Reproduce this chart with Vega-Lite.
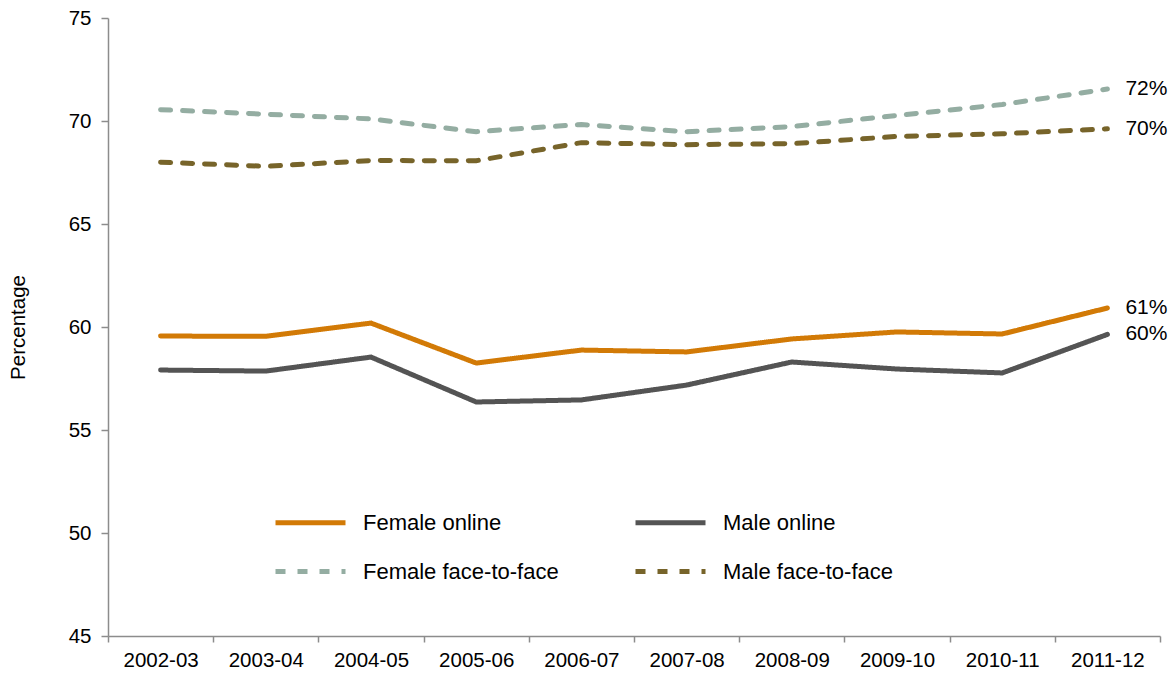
{
  "$schema": "https://vega.github.io/schema/vega-lite/v6.json",
  "width": 1052,
  "height": 618,
  "autosize": {"type": "none"},
  "padding": {"left": 108, "top": 18, "right": 16, "bottom": 41},
  "background": "white",
  "config": {
    "font": "Liberation Sans",
    "view": {"stroke": null},
    "axis": {"labelFont": "Liberation Sans", "labelFontSize": 20.5, "labelColor": "#000000", "domainColor": "#8c8c8c", "tickColor": "#8c8c8c", "grid": false, "titleFont": "Liberation Sans", "titleFontWeight": "normal", "titleColor": "#000000"},
    "legend": {"labelFont": "Liberation Sans"}
  },
  "datasets": {
    "lines": [
      {"year": "2002-03", "series": "Female online", "value": 59.56},
      {"year": "2003-04", "series": "Female online", "value": 59.55},
      {"year": "2004-05", "series": "Female online", "value": 60.19},
      {"year": "2005-06", "series": "Female online", "value": 58.25},
      {"year": "2006-07", "series": "Female online", "value": 58.88},
      {"year": "2007-08", "series": "Female online", "value": 58.79},
      {"year": "2008-09", "series": "Female online", "value": 59.42},
      {"year": "2009-10", "series": "Female online", "value": 59.76},
      {"year": "2010-11", "series": "Female online", "value": 59.66},
      {"year": "2011-12", "series": "Female online", "value": 60.92},
      {"year": "2002-03", "series": "Male online", "value": 57.91},
      {"year": "2003-04", "series": "Male online", "value": 57.86},
      {"year": "2004-05", "series": "Male online", "value": 58.54},
      {"year": "2005-06", "series": "Male online", "value": 56.36},
      {"year": "2006-07", "series": "Male online", "value": 56.46},
      {"year": "2007-08", "series": "Male online", "value": 57.18},
      {"year": "2008-09", "series": "Male online", "value": 58.3},
      {"year": "2009-10", "series": "Male online", "value": 57.96},
      {"year": "2010-11", "series": "Male online", "value": 57.77},
      {"year": "2011-12", "series": "Male online", "value": 59.64},
      {"year": "2002-03", "series": "Female face-to-face", "value": 70.55},
      {"year": "2003-04", "series": "Female face-to-face", "value": 70.33},
      {"year": "2004-05", "series": "Female face-to-face", "value": 70.1},
      {"year": "2005-06", "series": "Female face-to-face", "value": 69.48},
      {"year": "2006-07", "series": "Female face-to-face", "value": 69.83},
      {"year": "2007-08", "series": "Female face-to-face", "value": 69.48},
      {"year": "2008-09", "series": "Female face-to-face", "value": 69.73},
      {"year": "2009-10", "series": "Female face-to-face", "value": 70.27},
      {"year": "2010-11", "series": "Female face-to-face", "value": 70.8},
      {"year": "2011-12", "series": "Female face-to-face", "value": 71.55},
      {"year": "2002-03", "series": "Male face-to-face", "value": 68.0},
      {"year": "2003-04", "series": "Male face-to-face", "value": 67.8},
      {"year": "2004-05", "series": "Male face-to-face", "value": 68.08},
      {"year": "2005-06", "series": "Male face-to-face", "value": 68.07},
      {"year": "2006-07", "series": "Male face-to-face", "value": 68.95},
      {"year": "2007-08", "series": "Male face-to-face", "value": 68.85},
      {"year": "2008-09", "series": "Male face-to-face", "value": 68.9},
      {"year": "2009-10", "series": "Male face-to-face", "value": 69.25},
      {"year": "2010-11", "series": "Male face-to-face", "value": 69.38},
      {"year": "2011-12", "series": "Male face-to-face", "value": 69.62}
    ],
    "labels": [
      {"year": "2011-12", "series": "Female face-to-face", "value": 71.55, "label": "72%"},
      {"year": "2011-12", "series": "Male face-to-face", "value": 69.62, "label": "70%"},
      {"year": "2011-12", "series": "Female online", "value": 60.92, "label": "61%"},
      {"year": "2011-12", "series": "Male online", "value": 59.64, "label": "60%"}
    ]
  },
  "layer": [
    {
      "data": {"name": "lines"},
      "mark": {"type": "line", "strokeWidth": 5, "strokeCap": "round"},
      "encoding": {
        "x": {
          "field": "year", "type": "ordinal",
          "scale": {"paddingInner": 0, "paddingOuter": 0},
          "axis": {"title": null, "labelAngle": 0, "tickBand": "extent", "tickSize": 6, "labelPadding": 8, "domainWidth": 1.5, "tickWidth": 1.5}
        },
        "y": {
          "field": "value", "type": "quantitative",
          "scale": {"domain": [45, 75], "nice": false, "zero": false},
          "axis": {"values": [45, 50, 55, 60, 65, 70, 75], "title": "Percentage", "titleFontSize": 20.5, "titleX": -80, "tickSize": 7, "labelPadding": 10, "domainWidth": 1.5, "tickWidth": 1.5}
        },
        "color": {
          "field": "series", "type": "nominal",
          "scale": {"domain": ["Female online", "Female face-to-face", "Male online", "Male face-to-face"], "range": ["#d27a06", "#94ada2", "#545454", "#77642a"]},
          "legend": {
            "title": null, "orient": "none", "legendX": 165, "legendY": 467, "columns": 2, "columnPadding": 66, "rowPadding": 0,
            "symbolType": "stroke", "symbolSize": 4900, "symbolStrokeWidth": 5, "labelFontSize": 22, "labelColor": "#000000", "labelOffset": 15, "labelLimit": 400
          }
        },
        "strokeDash": {
          "field": "series", "type": "nominal",
          "scale": {"domain": ["Female online", "Female face-to-face", "Male online", "Male face-to-face"], "range": [[1, 0], [10, 12], [1, 0], [10, 12]]},
          "legend": {
            "title": null, "orient": "none", "legendX": 165, "legendY": 467, "columns": 2, "columnPadding": 66, "rowPadding": 0,
            "symbolType": "stroke", "symbolSize": 4900, "symbolStrokeWidth": 5, "labelFontSize": 22, "labelColor": "#000000", "labelOffset": 15, "labelLimit": 400
          }
        }
      }
    },
    {
      "data": {"name": "labels"},
      "mark": {"type": "text", "align": "left", "baseline": "middle", "dx": 18, "fontSize": 21, "color": "#000000"},
      "encoding": {
        "x": {"field": "year", "type": "ordinal"},
        "y": {"field": "value", "type": "quantitative"},
        "text": {"field": "label"}
      }
    }
  ]
}
